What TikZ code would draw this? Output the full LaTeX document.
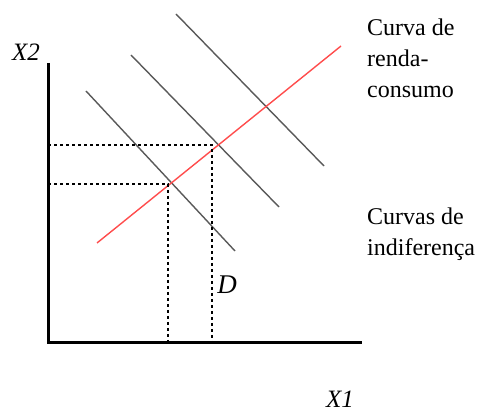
\documentclass[tikz,border=0pt]{standalone}
\usepackage{fontspec}
\setmainfont{Liberation Serif}
\usetikzlibrary{positioning, calc}

\begin{document}
\begin{tikzpicture}[
    x=1pt, y=-1pt,
    axis/.style={line width=3pt},
    indif/.style={line width=1.4pt, draw=black!65},
    rendacons/.style={line width=1.4pt, draw=red!70},
    guide/.style={line width=1.3pt, dash pattern=on 3pt off 3pt},
    label/.style={inner sep=0pt, font=\fontsize{24}{31}\selectfont, align=left}
]
    \useasboundingbox (0,0) rectangle (477,414);

    % Axes
    \coordinate (top) at (48,63);
    \coordinate (o) at (48,343);
    \coordinate (right) at (362,343);
    \draw[axis] (top) -- (o) -- (right);
    \node[label, font=\fontsize{25}{30}\selectfont\itshape] (x2) at (26,52) {X2};
    \node[label, font=\fontsize{25}{30}\selectfont\itshape] (x1) at (340,399) {X1};

    % Indifference curves
    \coordinate (u1a) at (86,91);   \coordinate (u1b) at (235,251);
    \coordinate (u2a) at (131,55);  \coordinate (u2b) at (279,207);
    \coordinate (u3a) at (176,14);  \coordinate (u3b) at (324,166);
    \draw[indif] (u1a) -- (u1b);
    \draw[indif] (u2a) -- (u2b);
    \draw[indif] (u3a) -- (u3b);

    % Income-consumption curve
    \coordinate (ra) at (97,243);
    \coordinate (rb) at (341,46);
    \draw[rendacons] (ra) -- (rb);

    % Guides
    \coordinate (e1) at (168,184);
    \coordinate (e2) at (212,145);
    \draw[guide] (o |- e1) -- (e1) -- (e1 |- o);
    \draw[guide] (o |- e2) -- (e2) -- (e2 |- o);
    \node[label, font=\fontsize{27}{30}\selectfont\itshape] (d) at (227,285) {D};

    % Labels
    \node[label, anchor=north west] (rc) at (367,19) {Curva de\\renda-\\consumo};
    \node[label, anchor=north west] (ci) at (367,208) {Curvas de\\indiferença};
\end{tikzpicture}
\end{document}
